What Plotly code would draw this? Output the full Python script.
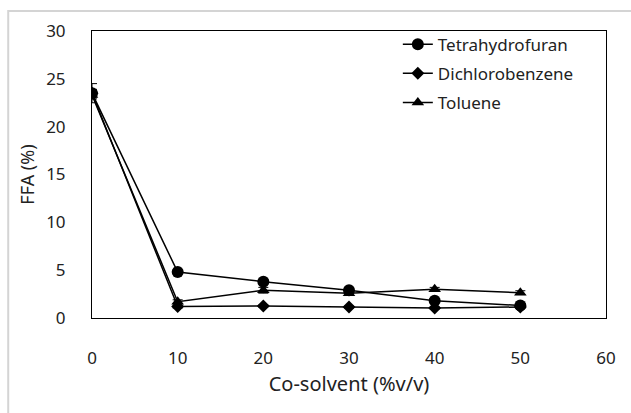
import plotly.graph_objects as go

# Co-solvent concentration (%v/v)
cosolvent = [0, 10, 20, 30, 40, 50]

# Free fatty acid content (%) for each co-solvent
ffa_thf = [23.5, 4.8, 3.8, 2.9, 1.8, 1.3]
ffa_dcb = [23.5, 1.2, 1.25, 1.15, 1.05, 1.15]
ffa_toluene = [23.3, 1.7, 2.9, 2.6, 3.0, 2.65]

# Standard deviations
err_thf = [1.0, 0.2, 0.25, 0.25, 0.2, 0.2]
err_dcb = [0.4, 0.15, 0.1, 0.1, 0.1, 0.1]
err_toluene = [0.4, 0.2, 0.3, 0.25, 0.2, 0.2]

series = [
    ("Tetrahydrofuran", ffa_thf, err_thf, "circle", 12),
    ("Dichlorobenzene", ffa_dcb, err_dcb, "diamond", 10),
    ("Toluene", ffa_toluene, err_toluene, "triangle-up", 11),
]

FONT = "Noto Sans"

fig = go.Figure()
for name, values, errs, symbol, size in series:
    fig.add_trace(go.Scatter(
        x=cosolvent, y=values, name=name, legendgroup=name,
        mode="lines+markers",
        line=dict(color="black", width=1.5),
        marker=dict(symbol=symbol, size=size, color="black"),
        error_y=dict(type="data", array=errs, visible=True,
                     color="black", thickness=1, width=5),
    ))

axis_common = dict(
    showgrid=False, zeroline=False, showline=True, mirror=True,
    linecolor="black", linewidth=1, ticks="",
    tickfont=dict(family=FONT, size=17, color="#222"),
)

fig.update_layout(
    width=631, height=413,
    margin=dict(l=92, r=25, t=31, b=95, autoexpand=False),
    paper_bgcolor="white", plot_bgcolor="white",
    font=dict(family=FONT, color="#222"),
    xaxis=dict(range=[0, 60], dtick=10, ticklabelstandoff=25, automargin=False,
               title=dict(text="Co-solvent (%v/v)", font=dict(family=FONT, size=20), standoff=8),
               **axis_common),
    yaxis=dict(range=[0, 30], dtick=5, ticklabelstandoff=22, automargin=False,
               title=dict(text="FFA (%)", font=dict(family=FONT, size=18), standoff=6),
               **axis_common),
    legend=dict(x=0.595, y=1.015, xanchor="left", yanchor="top",
                bgcolor="rgba(0,0,0,0)", borderwidth=0,
                font=dict(family=FONT, size=17, color="#222"),
                tracegroupgap=4),
    # Light grey frame around the chart area
    shapes=[dict(type="rect", xref="paper", yref="paper",
                 x0=-0.163, x1=1.2, y0=-0.4, y1=1.0697,
                 line=dict(color="#d4d4d4", width=2), layer="below")],
)

fig.write_html("out.html")
